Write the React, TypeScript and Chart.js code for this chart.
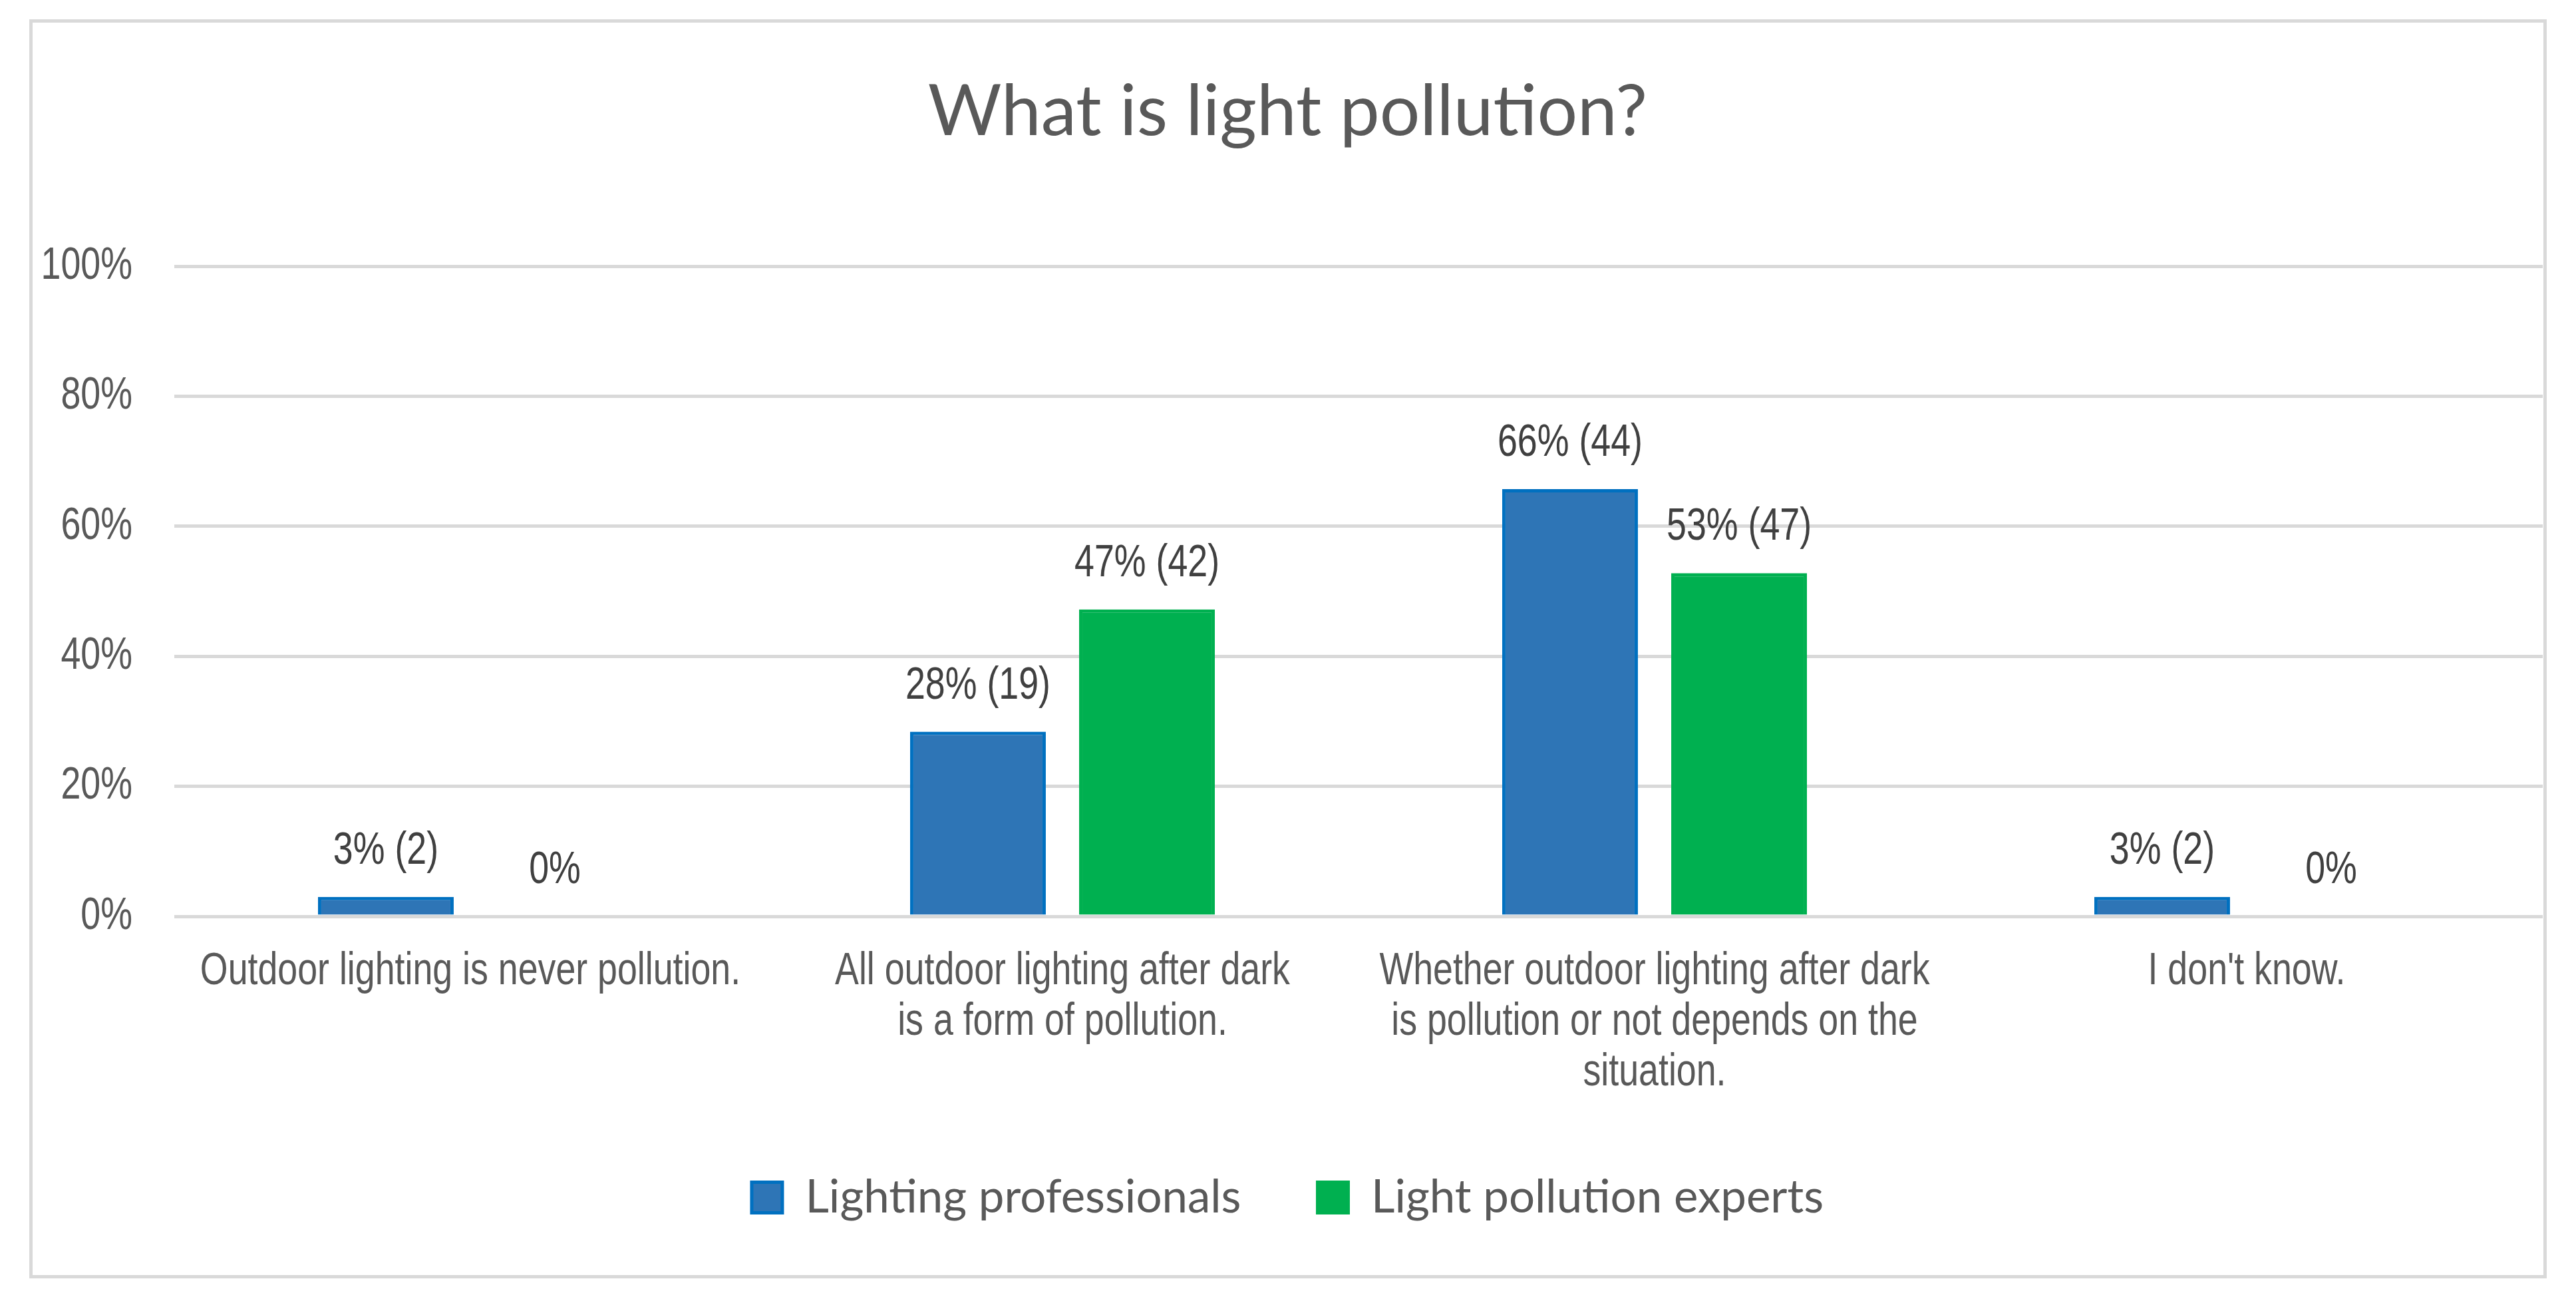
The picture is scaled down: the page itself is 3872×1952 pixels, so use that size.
import React, { useEffect, useRef } from 'react';
import { Chart, registerables } from 'chart.js';

Chart.register(...registerables);

// ---------- data ----------
const categories: string[][] = [
  ['Outdoor lighting is never pollution.'],
  ['All outdoor lighting after dark', 'is a form of pollution.'],
  ['Whether outdoor lighting after dark', 'is pollution or not depends on the', 'situation.'],
  ["I don't know."],
];
const seriesNames = ['Lighting professionals', 'Light pollution experts'];
const professionalsPct = [3.0, 28.4, 65.7, 3.0];
const expertsPct = [0, 47.2, 52.8, 0];
const professionalsLabels = ['3% (2)', '28% (19)', '66% (44)', '3% (2)'];
const expertsLabels = ['0%', '47% (42)', '53% (47)', '0%'];
const titleText = 'What is light pollution?';
const yMin = 0;
const yMax = 100;
const yStep = 20;

// ---------- styles ----------
const ARIAL = "'Liberation Sans', Arial, sans-serif";
const CALIBRI = "Lato, 'Open Sans', sans-serif";
const SQUEEZE = 0.79; // emulate Arial Narrow
const valueLabels = [professionalsLabels, expertsLabels];

function narrowText(ctx: CanvasRenderingContext2D, text: string, x: number, y: number, align: CanvasTextAlign) {
  ctx.save();
  ctx.translate(x, y);
  ctx.scale(SQUEEZE, 1);
  ctx.textAlign = align;
  ctx.fillText(text, 0, 0);
  ctx.restore();
}

const narrowLabels = {
  id: 'narrowLabels',
  afterDraw(chart: any) {
    const ctx: CanvasRenderingContext2D = chart.ctx;
    const xs = chart.scales.x;
    const ys = chart.scales.y;
    ctx.save();
    ctx.font = `68px ${ARIAL}`;

    // y tick labels
    ctx.fillStyle = '#595959';
    ctx.textBaseline = 'middle';
    ys.ticks.forEach((t: any) => {
      narrowText(ctx, `${t.value}%`, ys.right - 63, ys.getPixelForValue(t.value), 'right');
    });

    // x category labels
    ctx.textBaseline = 'alphabetic';
    (chart.data.labels as string[][]).forEach((lines, i) => {
      const x = xs.getPixelForTick(i);
      lines.forEach((line, li) => {
        narrowText(ctx, line, x, xs.top + 102 + li * 76, 'center');
      });
    });

    // value labels above bars
    ctx.fillStyle = '#404040';
    chart.data.datasets.forEach((_ds: any, di: number) => {
      const meta = chart.getDatasetMeta(di);
      meta.data.forEach((el: any, i: number) => {
        narrowText(ctx, valueLabels[di][i], el.x, el.y - 50, 'center');
      });
    });
    ctx.restore();
  },
};

export default function App() {
  const canvasRef = useRef<HTMLCanvasElement | null>(null);

  useEffect(() => {
    if (!canvasRef.current) return;
    const chart = new Chart(canvasRef.current, {
      type: 'bar',
      data: {
        labels: categories,
        datasets: [
          {
            label: seriesNames[0],
            data: professionalsPct,
            backgroundColor: '#2E75B6',
            borderColor: '#0070C0',
            borderWidth: 5,
            categoryPercentage: 0.571,
            barPercentage: 0.803,
          },
          {
            label: seriesNames[1],
            data: expertsPct,
            backgroundColor: '#00B050',
            borderColor: '#00B050',
            borderWidth: 5,
            categoryPercentage: 0.571,
            barPercentage: 0.803,
          },
        ],
      },
      options: {
        animation: false,
        responsive: false,
        devicePixelRatio: 1,
        layout: { padding: { left: 0, right: 1, top: 0, bottom: 72 } },
        plugins: {
          title: {
            display: true,
            text: titleText,
            color: '#595959',
            font: { family: CALIBRI, size: 107, weight: 'normal', lineHeight: 1.2 },
            padding: { top: 70, bottom: 167.6 },
          },
          legend: {
            position: 'bottom',
            labels: {
              color: '#595959',
              font: { family: CALIBRI, size: 69 },
              boxWidth: 46,
              boxHeight: 46,
              padding: 115,
            },
          },
          tooltip: { enabled: false },
        },
        scales: {
          x: {
            grid: { display: false, drawTicks: false },
            border: { display: false },
            ticks: { display: false, autoSkip: false, maxRotation: 0 },
            afterFit: (scale: any) => { scale.height = 273; },
          },
          y: {
            min: yMin,
            max: yMax,
            grid: { color: '#D9D9D9', lineWidth: 5, drawTicks: false },
            border: { display: false },
            ticks: { display: false, stepSize: yStep },
            afterFit: (scale: any) => { scale.width = 213; },
          },
        },
      },
      plugins: [narrowLabels],
    });
    return () => chart.destroy();
  }, []);

  return (
    <div style={{ position: 'absolute', left: 0, top: 0, width: 3872, height: 1952, background: '#ffffff' }}>
      <div
        style={{
          position: 'absolute',
          left: 44,
          top: 29,
          width: 3774,
          height: 1882,
          border: '5px solid #D9D9D9',
          background: '#ffffff',
        }}
      >
        <canvas ref={canvasRef} width={3774} height={1882} style={{ display: 'block', width: 3774, height: 1882 }} />
      </div>
    </div>
  );
}
